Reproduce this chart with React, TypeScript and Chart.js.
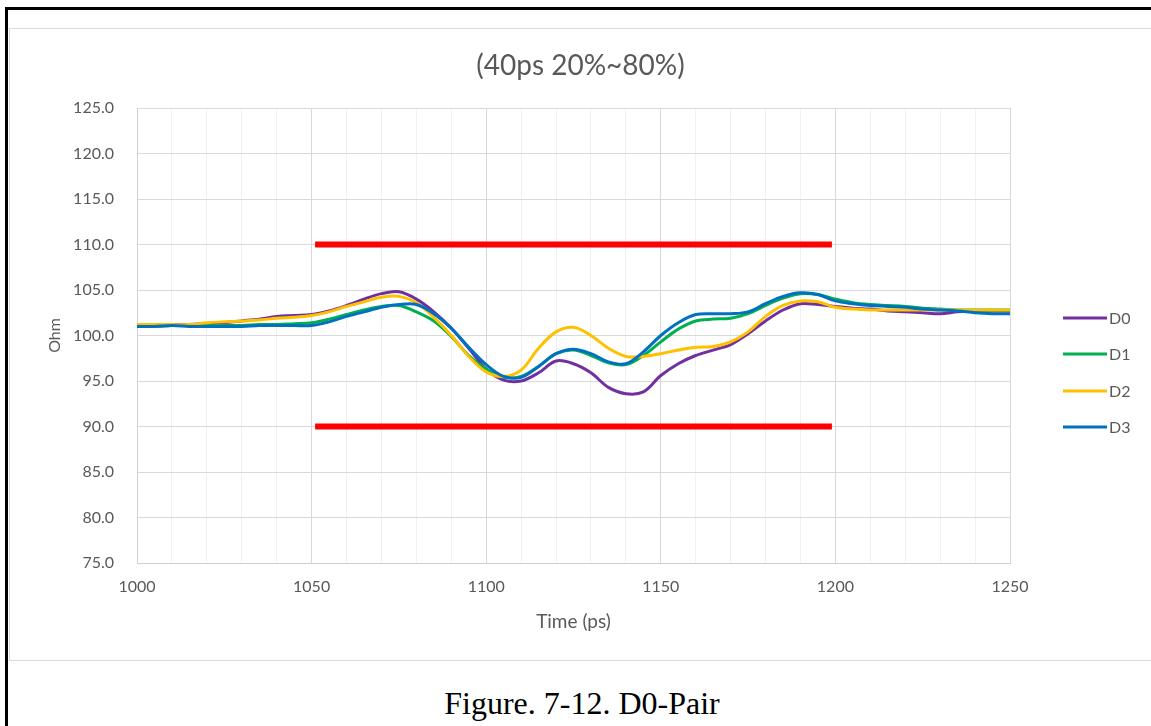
import { useEffect, useRef } from 'react';
import { Chart, registerables } from 'chart.js';

Chart.register(...registerables);

const times = [
  1000, 1005, 1010, 1015, 1020, 1025, 1030, 1035, 1040, 1045,
  1050, 1055, 1060, 1065, 1070, 1075, 1080, 1085, 1090, 1095,
  1100, 1105, 1110, 1115, 1120, 1125, 1130, 1135, 1140, 1145,
  1150, 1155, 1160, 1165, 1170, 1175, 1180, 1185, 1190, 1195,
  1200, 1205, 1210, 1215, 1220, 1225, 1230, 1235, 1240, 1245, 1250,
];

const d0 = [
  101.2, 101.2, 101.2, 101.2, 101.3, 101.4, 101.6, 101.8, 102.1, 102.2,
  102.3, 102.7, 103.3, 104.0, 104.6, 104.8, 104.0, 102.6, 100.8, 98.6,
  96.3, 95.1, 95.0, 95.9, 97.2, 96.9, 95.9, 94.3, 93.6, 93.8,
  95.6, 96.9, 97.8, 98.4, 99.0, 100.2, 101.6, 102.8, 103.5, 103.4,
  103.2, 103.0, 102.9, 102.7, 102.6, 102.5, 102.4, 102.6, 102.7, 102.7, 102.7,
];

const d1 = [
  101.0, 101.0, 101.1, 101.1, 101.1, 101.1, 101.1, 101.2, 101.2, 101.3,
  101.4, 101.8, 102.3, 102.8, 103.2, 103.3, 102.6, 101.6, 99.9, 97.8,
  96.3, 95.4, 95.5, 96.6, 98.0, 98.4, 97.8, 97.0, 96.8, 97.8,
  99.3, 100.7, 101.6, 101.8, 101.9, 102.4, 103.3, 104.1, 104.6, 104.5,
  104.0, 103.6, 103.4, 103.3, 103.2, 103.0, 102.9, 102.8, 102.8, 102.8, 102.8,
];

const d2 = [
  101.2, 101.2, 101.2, 101.2, 101.4, 101.5, 101.6, 101.7, 101.9, 102.0,
  102.2, 102.6, 103.2, 103.7, 104.2, 104.3, 103.6, 102.0, 100.0, 97.7,
  96.0, 95.5, 96.2, 98.6, 100.4, 100.9, 100.0, 98.6, 97.7, 97.7,
  98.0, 98.4, 98.7, 98.8, 99.3, 100.4, 102.1, 103.3, 103.8, 103.7,
  103.1, 102.9, 102.8, 102.8, 102.8, 102.8, 102.8, 102.8, 102.8, 102.8, 102.8,
];

const d3 = [
  101.0, 101.0, 101.1, 101.0, 101.0, 101.0, 101.0, 101.1, 101.1, 101.1,
  101.1, 101.5, 102.1, 102.6, 103.1, 103.4, 103.4, 102.4, 100.8, 98.7,
  96.8, 95.5, 95.4, 96.6, 98.0, 98.5, 98.0, 97.1, 96.9, 98.2,
  100.0, 101.4, 102.3, 102.4, 102.4, 102.6, 103.5, 104.3, 104.7, 104.5,
  103.8, 103.5, 103.3, 103.2, 103.1, 102.9, 102.8, 102.7, 102.5, 102.4, 102.4,
];

const limitTimes = [1051, 1199];
const upperLimit = [110, 110];
const lowerLimit = [90, 90];

const seriesNames = ['D0', 'D1', 'D2', 'D3'];
const seriesColors = ['#7030a0', '#00b050', '#ffc000', '#0070c0'];
const seriesValues = [d0, d1, d2, d3];
const chartTitle = '(40ps 20%~80%)';

const decorPlugin = {
  id: 'decor',
  afterDraw(chart: any) {
    const ctx = chart.ctx;
    const ys = [289, 325, 362, 398];
    ctx.save();
    // title
    ctx.font = '28px Lato, "Open Sans", sans-serif';
    ctx.fillStyle = '#595959';
    ctx.textAlign = 'center';
    ctx.textBaseline = 'middle';
    ctx.fillText(chartTitle, chart.width / 2, 37);
    // legend
    ctx.font = '16px Lato, "Open Sans", sans-serif';
    ctx.textAlign = 'left';
    seriesNames.forEach((name, i) => {
      ctx.strokeStyle = seriesColors[i];
      ctx.lineWidth = 3;
      ctx.beginPath();
      ctx.moveTo(1053, ys[i]);
      ctx.lineTo(1097, ys[i]);
      ctx.stroke();
      ctx.fillStyle = '#595959';
      ctx.fillText(name, 1099, ys[i] + 1);
    });
    ctx.restore();
  },
};

export default function App() {
  const ref = useRef<HTMLCanvasElement>(null);

  useEffect(() => {
    if (!ref.current) return;
    Chart.defaults.font.family = 'Lato, "Open Sans", sans-serif';
    const curveSets = seriesNames.map((name, i) => ({
      label: name,
      data: times.map((t, k) => ({ x: t, y: seriesValues[i][k] })),
      borderColor: seriesColors[i],
      backgroundColor: seriesColors[i],
      borderWidth: 3,
      pointRadius: 0,
      tension: 0.35,
      order: 4 - i,
    }));
    const limitSets = [upperLimit, lowerLimit].map((vals, j) => ({
      label: j === 0 ? 'upper' : 'lower',
      data: limitTimes.map((t, k) => ({ x: t, y: vals[k] })),
      borderColor: '#ff0000',
      backgroundColor: '#ff0000',
      borderWidth: 6,
      pointRadius: 0,
      tension: 0,
      order: 10,
    }));
    const chart = new Chart(ref.current, {
      type: 'line',
      data: { datasets: [...curveSets, ...limitSets] as any },
      options: {
        animation: false,
        responsive: false,
        maintainAspectRatio: false,
        layout: { padding: { left: 0, right: 141, top: 79, bottom: 0 } },
        plugins: {
          legend: { display: false },
          tooltip: { enabled: false },
          title: { display: false },
        },
        scales: {
          x: {
            type: 'linear',
            min: 1000,
            max: 1250,
            afterFit: (s: any) => { s.height = 97; },
            grid: {
              color: (c: any) => (c.tick && c.tick.value % 50 === 0 ? '#d9d9d9' : '#f0f0f0'),
              drawTicks: false,
            },
            border: { display: true, color: '#d0d0d0' },
            ticks: {
              stepSize: 10,
              autoSkip: false,
              maxRotation: 0,
              padding: 14,
              color: '#595959',
              font: { size: 16 },
              callback: (v: any) => (Number(v) % 50 === 0 ? String(v) : ''),
            },
            title: {
              display: true,
              text: 'Time (ps)',
              color: '#595959',
              font: { size: 19 },
              padding: { top: 0, bottom: 27 },
            },
          },
          y: {
            min: 75,
            max: 125,
            afterFit: (s: any) => { s.width = 127; },
            grid: { color: '#d9d9d9', drawTicks: false },
            border: { display: true, color: '#d0d0d0' },
            ticks: {
              stepSize: 5,
              padding: 23,
              color: '#595959',
              font: { size: 16 },
              callback: (v: any) => Number(v).toFixed(1),
            },
            title: {
              display: true,
              text: 'Ohm',
              color: '#595959',
              font: { size: 16 },
              padding: { top: 35, bottom: 0 },
            },
          },
        },
      },
      plugins: [decorPlugin],
    });
    return () => chart.destroy();
  }, []);

  return (
    <div style={{ position: 'fixed', left: 0, top: 0, width: 1151, height: 726, background: '#fff', overflow: 'hidden' }}>
      <div style={{ position: 'absolute', left: 5, top: 7, width: 1200, height: 800, borderTop: '3px solid #000', borderLeft: '3px solid #000' }} />
      <div style={{ position: 'absolute', left: 9, top: 28, width: 1200, height: 631, border: '1px solid #d9d9d9' }} />
      <canvas ref={ref} width={1141} height={631} style={{ position: 'absolute', left: 10, top: 29, width: 1141, height: 631 }} />
      <div style={{ position: 'absolute', left: 0, top: 683, width: 1164, textAlign: 'center', fontFamily: '"Liberation Serif", "Times New Roman", serif', fontSize: 32, lineHeight: '40px', color: '#000' }}>
        Figure. 7-12. D0-Pair
      </div>
    </div>
  );
}
